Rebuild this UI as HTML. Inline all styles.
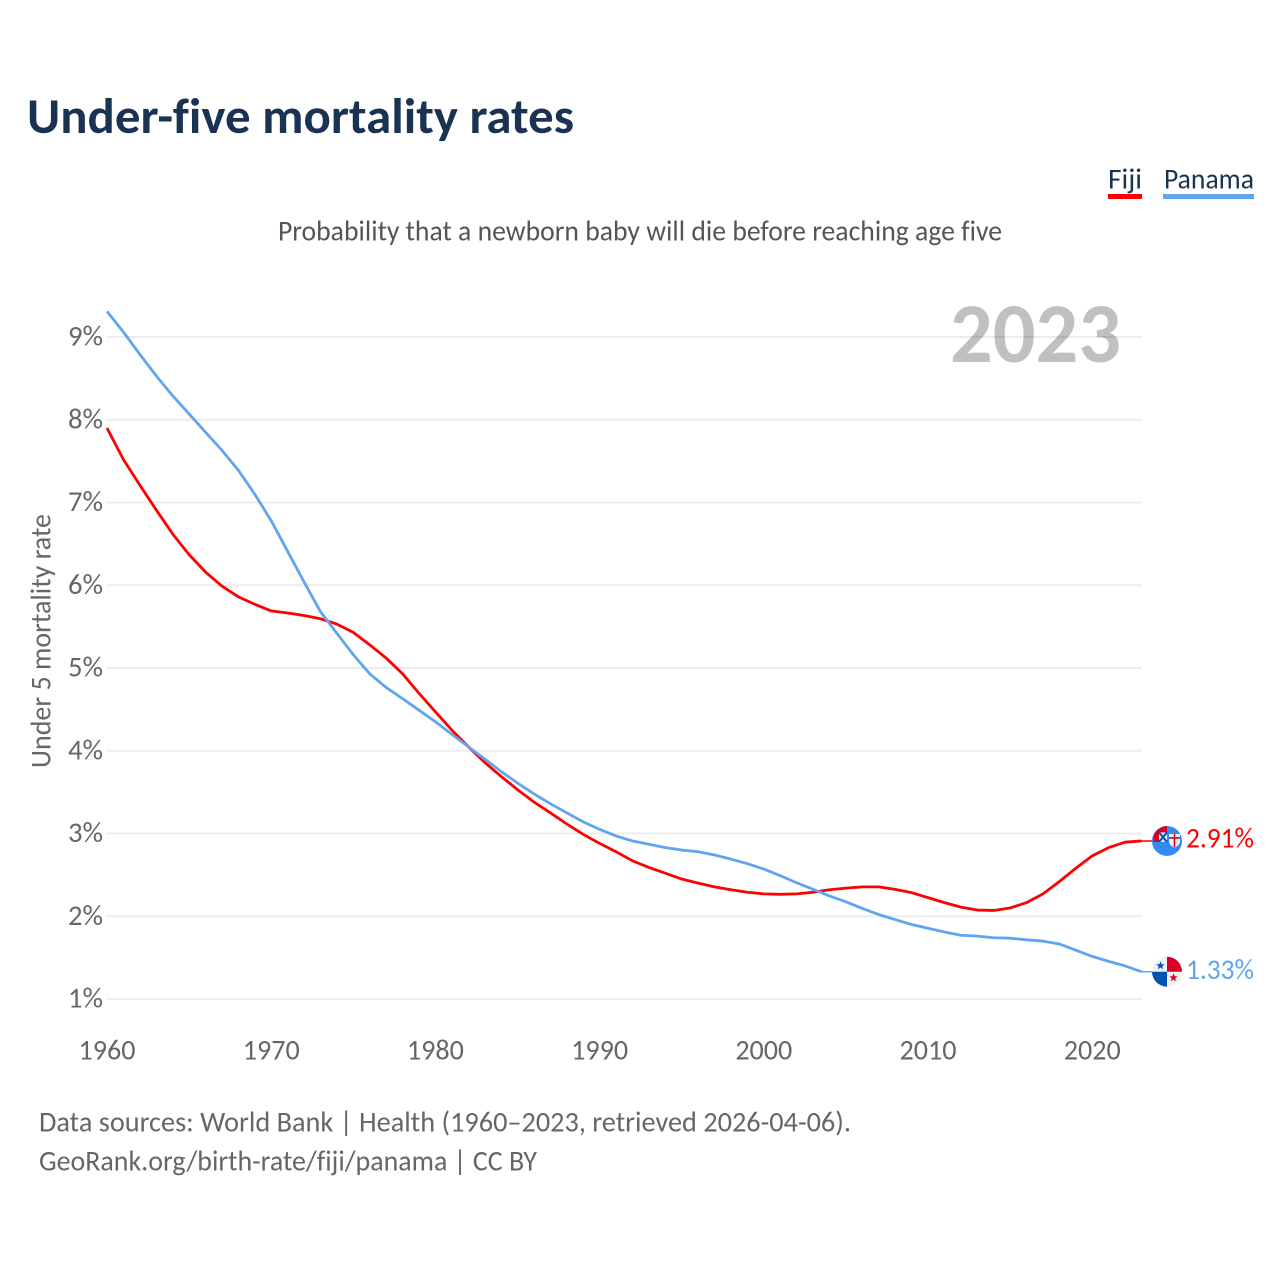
<!DOCTYPE html>
<html lang="en">
<head>
<meta charset="utf-8">
<title>Under-five mortality rates</title>
<style>
html,body{margin:0;padding:0;background:#fff;}
svg{display:block;}
text{font-family:"Carlito","Lato","Liberation Sans",sans-serif;font-variant-ligatures:none;}
</style>
</head>
<body>
<svg id="chart" width="1280" height="1280" viewBox="0 0 1280 1280" xmlns="http://www.w3.org/2000/svg">
  <rect x="0" y="0" width="1280" height="1280" fill="#fff"/>
  <text x="27" y="133" font-size="50" font-weight="700" fill="#1a3352" textLength="547" lengthAdjust="spacingAndGlyphs">Under-five mortality rates</text>
  <text x="640" y="240.5" font-size="28.6" fill="#555" text-anchor="middle" textLength="724" lengthAdjust="spacingAndGlyphs">Probability that a newborn baby will die before reaching age five</text>
  <g id="legend">
    <text x="1108" y="188.5" font-size="28.6" fill="#1a3352" textLength="34" lengthAdjust="spacingAndGlyphs">Fiji</text>
    <rect x="1108" y="194" width="34" height="5" fill="#ff0000"/>
    <text x="1164" y="188.5" font-size="28.6" fill="#1a3352" textLength="90" lengthAdjust="spacingAndGlyphs">Panama</text>
    <rect x="1163" y="194" width="91" height="5" fill="#60a5ee"/>
  </g>
  <text x="1121" y="362" font-size="85" font-weight="700" fill="#c0c0c0" text-anchor="end" textLength="171" lengthAdjust="spacingAndGlyphs">2023</text>
  <g id="grid"></g>
  <g id="yticks"></g>
  <g id="xticks"></g>
  <text transform="translate(50.5,641) rotate(-90)" font-size="28.6" fill="#666" text-anchor="middle" textLength="254" lengthAdjust="spacingAndGlyphs">Under 5 mortality rate</text>
  <g id="series"></g>
  <g id="flag-fiji"></g>
  <g id="flag-panama"></g>
  <text id="label-fiji" x="1254" font-size="28.6" fill="#ff0000" text-anchor="end" textLength="68" lengthAdjust="spacingAndGlyphs"></text>
  <text id="label-panama" x="1254" font-size="28.6" fill="#60a5ee" text-anchor="end" textLength="68" lengthAdjust="spacingAndGlyphs"></text>
  <text x="39" y="1131.5" font-size="28.6" fill="#666" textLength="812" lengthAdjust="spacingAndGlyphs">Data sources: World Bank | Health (1960–2023, retrieved 2026-04-06).</text>
  <text x="39" y="1170.5" font-size="28.6" fill="#666" textLength="498" lengthAdjust="spacingAndGlyphs">GeoRank.org/birth-rate/fiji/panama | CC BY</text>
</svg>
<script>
var startYear = 1960;
var yTickValues = [1, 2, 3, 4, 5, 6, 7, 8, 9];
var xTickValues = [1960, 1970, 1980, 1990, 2000, 2010, 2020];
var fijiValues = [7.90,7.52,7.21,6.91,6.62,6.37,6.16,5.99,5.86,5.77,5.69,5.665,5.635,5.595,5.53,5.43,5.28,5.12,4.93,4.695,4.47,4.25,4.05,3.86,3.69,3.53,3.38,3.25,3.115,2.99,2.88,2.78,2.67,2.59,2.52,2.45,2.40,2.355,2.32,2.29,2.27,2.265,2.27,2.29,2.32,2.34,2.355,2.355,2.325,2.285,2.225,2.165,2.11,2.075,2.07,2.10,2.165,2.27,2.42,2.58,2.73,2.83,2.895,2.91];
var panamaValues = [9.31,9.06,8.79,8.53,8.29,8.07,7.85,7.63,7.39,7.10,6.78,6.41,6.04,5.68,5.42,5.16,4.93,4.765,4.63,4.49,4.35,4.20,4.05,3.90,3.75,3.61,3.48,3.36,3.25,3.14,3.05,2.97,2.91,2.87,2.83,2.80,2.78,2.74,2.69,2.635,2.57,2.49,2.405,2.325,2.245,2.175,2.095,2.02,1.96,1.90,1.855,1.81,1.77,1.76,1.74,1.735,1.715,1.70,1.665,1.59,1.515,1.455,1.40,1.33];
var fijiEndLabel = "2.91%";
var panamaEndLabel = "1.33%";

var NS = "http://www.w3.org/2000/svg";
function xScale(year) { return 107 + (year - 1960) * (1141.5 - 107) / 63; }
function yScale(value) { return 999 - (value - 1) * (999 - 337) / 8; }
function make(tag, attrs, parent) {
  var el = document.createElementNS(NS, tag);
  for (var k in attrs) { el.setAttribute(k, attrs[k]); }
  parent.appendChild(el);
  return el;
}

var gridG = document.getElementById("grid");
var yG = document.getElementById("yticks");
yTickValues.forEach(function (v) {
  var line = make("line", {x1: 107, x2: 1141.5, y1: yScale(v), y2: yScale(v), stroke: "#000", "stroke-opacity": 0.075, "stroke-width": 2}, gridG);
  
  
  var t = make("text", {x: 103, y: yScale(v) + 8.5, "font-size": 28.6, fill: "#666", "text-anchor": "end", textLength: 35, lengthAdjust: "spacingAndGlyphs"}, yG);
  
  
  t.textContent = v + "%";
});

var xG = document.getElementById("xticks");
xTickValues.forEach(function (y) {
  var t = make("text", {x: xScale(y), y: 1059.5, "font-size": 28.6, fill: "#666", "text-anchor": "middle", textLength: 57, lengthAdjust: "spacingAndGlyphs"}, xG);
  
  
  t.textContent = y;
});

function linePath(values) {
  return values.map(function (v, i) {
    return (i ? "L" : "M") + xScale(startYear + i).toFixed(2) + " " + yScale(v).toFixed(2);
  }).join(" ");
}
var lastYear = startYear + fijiValues.length - 1;
var flagX = xScale(lastYear) + 25.5;
var fy = yScale(fijiValues[fijiValues.length - 1]);
var py = yScale(panamaValues[panamaValues.length - 1]);

var seriesG = document.getElementById("series");
var fijiLine = make("path", {d: linePath(fijiValues), fill: "none", stroke: "#ff0000", "stroke-width": 2.8, "stroke-linejoin": "round"}, seriesG);


var panamaLine = make("path", {d: linePath(panamaValues), fill: "none", stroke: "#60a5ee", "stroke-width": 2.8, "stroke-linejoin": "round"}, seriesG);


var fijiTail = make("line", {x1: xScale(lastYear), x2: flagX, y1: fy, y2: fy, stroke: "#ff0000", "stroke-width": 1.5}, seriesG);


var panamaTail = make("line", {x1: xScale(lastYear), x2: flagX, y1: py, y2: py, stroke: "#60a5ee", "stroke-width": 1.5}, seriesG);



var lf = document.getElementById("label-fiji");
lf.setAttribute("y", fy + 6.5);
lf.textContent = fijiEndLabel;
var lp = document.getElementById("label-panama");
lp.setAttribute("y", py + 7.5);
lp.textContent = panamaEndLabel;

// Fiji flag
var ff = document.getElementById("flag-fiji");
ff.setAttribute("transform", "translate(" + flagX + "," + fy + ")");
make("circle", {cx: 0, cy: 0, r: 15, fill: "#338af3"}, ff);
make("path", {d: "M-13.5 1 L-13.5 -5 A15 15 0 0 1 0 -15 L0 1 Z", fill: "#d80027"}, ff);
make("rect", {x: -8, y: -8.5, width: 8, height: 9.5, fill: "#f0f0f0"}, ff);
make("path", {d: "M-8 -8.5 L0 1 M-8 1 L0 -8.5", stroke: "#0052b4", "stroke-width": 2}, ff);
make("path", {d: "M2 -7 H13 V0 Q13 4.5 7.5 6.5 Q2 4.5 2 0 Z", fill: "#f0f0f0"}, ff);
make("path", {d: "M7.5 -7 V6 M2 -3 H13", stroke: "#d80027", "stroke-width": 1.6}, ff);

// Panama flag
var pf = document.getElementById("flag-panama");
pf.setAttribute("transform", "translate(" + flagX + "," + py + ")");
make("circle", {cx: 0, cy: 0, r: 15, fill: "#f0f0f0"}, pf);
make("path", {d: "M0 0 V-15 A15 15 0 0 1 15 0 Z", fill: "#d80027"}, pf);
make("path", {d: "M0 0 V15 A15 15 0 0 1 -15 0 Z", fill: "#0052b4"}, pf);
var star = "M0 -4 L1 -1.3 L3.8 -1.2 L1.6 0.5 L2.4 3.2 L0 1.6 L-2.4 3.2 L-1.6 0.5 L-3.8 -1.2 L-1 -1.3 Z";
make("path", {d: star, fill: "#0052b4", transform: "translate(-6.5,-6) scale(1.1)"}, pf);
make("path", {d: star, fill: "#d80027", transform: "translate(6.5,6) scale(1.1)"}, pf);
</script>
</body>
</html>
